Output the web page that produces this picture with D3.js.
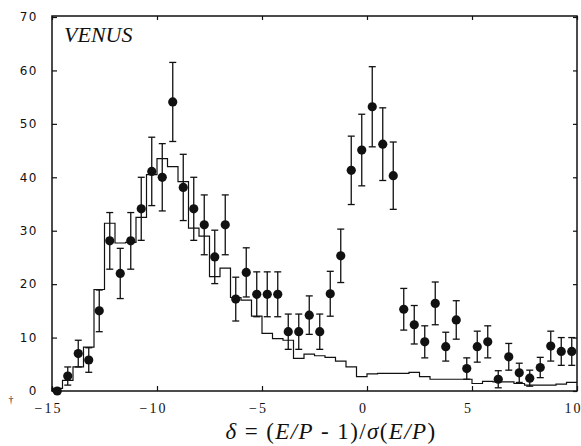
<!DOCTYPE html>
<html>
<head>
  <meta charset="utf-8">
  <script src="https://d3js.org/d3.v7.min.js"></script>
  <style>
    body { margin: 0; background: #fff; }
    .frame { fill: none; stroke: #111; stroke-width: 1.5px; }
    .hist { fill: none; stroke: #111; stroke-width: 1.2px; }
    .err { stroke: #111; stroke-width: 1.3px; }
    .ylab text { font-family: 'DejaVu Sans', sans-serif; font-size: 12px; letter-spacing: 1.5px; fill: #111; }
    .xlab text { font-family: 'Liberation Serif', serif; font-size: 14px; letter-spacing: 2px; fill: #111; }
    .tag { font-family: 'Liberation Serif', serif; font-style: italic; font-size: 22px; fill: #111; }
    .xtitle { font-family: 'Liberation Serif', serif; font-size: 23px; letter-spacing: 1.4px; fill: #111; }
  </style>
</head>
<body>
<div id="chart"></div>
<script>
// bin centres in delta (bins are 0.5 wide)
var delta = [-14.75, -14.25, -13.75, -13.25, -12.75, -12.25, -11.75, -11.25, -10.75, -10.25,
             -9.75, -9.25, -8.75, -8.25, -7.75, -7.25, -6.75, -6.25, -5.75, -5.25,
             -4.75, -4.25, -3.75, -3.25, -2.75, -2.25, -1.75, -1.25, -0.75, -0.25,
             0.25, 0.75, 1.25, 1.75, 2.25, 2.75, 3.25, 3.75, 4.25, 4.75,
             5.25, 5.75, 6.25, 6.75, 7.25, 7.75, 8.25, 8.75, 9.25, 9.75];

// data points (events per bin) and their errors
var counts = [0, 2.8, 7.0, 5.8, 15.0, 28.1, 22.0, 28.1, 34.1, 41.1,
              40.0, 54.1, 38.1, 34.1, 31.1, 25.1, 31.1, 17.2, 22.2, 18.1,
              18.1, 18.1, 11.1, 11.1, 14.2, 11.1, 18.2, 25.3, 41.3, 45.1,
              53.2, 46.2, 40.3, 15.3, 12.4, 9.2, 16.4, 8.3, 13.3, 4.2,
              8.3, 9.2, 2.2, 6.4, 3.4, 2.4, 4.4, 8.4, 7.4, 7.4];
var errors = [0, 1.7, 2.5, 2.3, 3.9, 5.3, 4.7, 5.3, 5.9, 6.4,
              6.3, 7.4, 6.2, 5.9, 5.6, 5.0, 5.6, 4.1, 4.6, 4.2,
              4.2, 4.2, 3.3, 3.3, 3.6, 3.3, 4.2, 5.0, 6.4, 6.7,
              7.5, 6.8, 6.3, 3.9, 3.6, 3.0, 4.0, 2.7, 3.6, 2.0,
              2.9, 3.0, 1.6, 2.5, 1.8, 1.5, 1.9, 2.8, 2.6, 2.6];

// simulation histogram (same bins)
var simulation = [0.5, 2.0, 4.5, 8.2, 19.0, 31.4, 27.7, 27.8, 32.5, 40.5,
                  43.5, 42.0, 39.2, 30.5, 29.0, 21.4, 23.0, 17.5, 17.0, 14.0,
                  10.8, 9.8, 9.5, 6.1, 6.9, 6.6, 6.3, 5.6, 4.5, 2.7,
                  3.2, 3.3, 3.3, 3.3, 3.5, 2.7, 2.2, 2.2, 2.2, 2.2,
                  1.4, 1.8, 1.7, 1.7, 1.4, 1.1, 1.1, 1.1, 1.3, 1.6];

var xTicks = [-15, -10, -5, 0, 5, 10];
var xTickLabels = ["\u221215", "\u221210", "\u22125", "0", "5", "10"];
var yTicks = [0, 10, 20, 30, 40, 50, 60, 70];

var W = 581, H = 446;
var binWidth = 0.5;

var svg = d3.select("#chart").append("svg")
    .attr("width", W)
    .attr("height", H);

svg.append("rect").attr("width", W).attr("height", H).attr("fill", "#fff");

var x = d3.scaleLinear().domain([-15, 10]).range([52, 577]);
var y = d3.scaleLinear().domain([0, 70]).range([391, 17]);

// frame
svg.append("rect")
    .attr("class", "frame")
    .attr("x", x(-15))
    .attr("y", 16)
    .attr("width", x(10) - x(-15))
    .attr("height", y(0) - 16);

// axes (ticks pointing inward)
svg.append("g")
    .attr("class", "ylab")
    .attr("transform", "translate(" + x(-15) + ",0)")
    .call(d3.axisLeft(y).tickValues(yTicks).tickSize(-5).tickPadding(14).tickFormat(d3.format("d")));

svg.append("g")
    .attr("transform", "translate(" + x(10) + ",0)")
    .call(d3.axisRight(y).tickValues(yTicks).tickSize(-4).tickFormat(""));

var xAxis = svg.append("g")
    .attr("class", "xlab")
    .attr("transform", "translate(0," + y(0) + ")")
    .call(d3.axisBottom(x).tickValues(xTicks).tickSize(-5).tickPadding(12)
        .tickFormat(function(d, i) { return xTickLabels[i]; }));
xAxis.selectAll("text").attr("dx", "-4");

svg.append("g")
    .attr("transform", "translate(0,16)")
    .call(d3.axisTop(x).tickValues(xTicks).tickSize(-4).tickFormat(""));

svg.selectAll(".domain").remove();
svg.selectAll(".tick line").attr("stroke", "#111").attr("stroke-width", 1.2);

// simulation histogram as a step line
var steps = [];
simulation.forEach(function(v, i) {
    steps.push([delta[i] - binWidth / 2, v]);
    steps.push([delta[i] + binWidth / 2, v]);
});
steps.unshift([-15, 0]);

svg.append("path")
    .datum(steps)
    .attr("class", "hist")
    .attr("d", d3.line().x(function(d) { return x(d[0]); }).y(function(d) { return y(d[1]); }));

// data points with error bars
var pts = delta.map(function(d, i) { return { d: d, v: counts[i], e: errors[i] }; });

var g = svg.append("g");
var withErr = pts.filter(function(p) { return p.e > 0; });

g.selectAll("line.err")
    .data(withErr)
    .enter().append("line")
    .attr("class", "err")
    .attr("x1", function(p) { return x(p.d); })
    .attr("x2", function(p) { return x(p.d); })
    .attr("y1", function(p) { return y(p.v - p.e); })
    .attr("y2", function(p) { return y(p.v + p.e); });

g.selectAll("line.capTop")
    .data(withErr)
    .enter().append("line")
    .attr("class", "err")
    .attr("x1", function(p) { return x(p.d) - 3.5; })
    .attr("x2", function(p) { return x(p.d) + 3.5; })
    .attr("y1", function(p) { return y(p.v + p.e); })
    .attr("y2", function(p) { return y(p.v + p.e); });

g.selectAll("line.capBot")
    .data(withErr)
    .enter().append("line")
    .attr("class", "err")
    .attr("x1", function(p) { return x(p.d) - 3.5; })
    .attr("x2", function(p) { return x(p.d) + 3.5; })
    .attr("y1", function(p) { return y(p.v - p.e); })
    .attr("y2", function(p) { return y(p.v - p.e); });

g.selectAll("circle")
    .data(pts)
    .enter().append("circle")
    .attr("cx", function(p) { return x(p.d); })
    .attr("cy", function(p) { return y(p.v); })
    .attr("r", 4.6)
    .attr("fill", "#111");

// labels
svg.append("text")
    .attr("class", "tag")
    .attr("x", 64)
    .attr("y", 42)
    .text("VENUS");

var t = svg.append("text")
    .attr("class", "xtitle")
    .attr("x", 331)
    .attr("y", 439)
    .attr("text-anchor", "middle");
t.append("tspan").attr("font-style", "italic").text("\u03b4");
t.append("tspan").text(" = (");
t.append("tspan").attr("font-style", "italic").text("E/P");
t.append("tspan").text(" - 1)/");
t.append("tspan").attr("font-style", "italic").text("\u03c3");
t.append("tspan").text("(");
t.append("tspan").attr("font-style", "italic").text("E/P");
t.append("tspan").text(")");

svg.append("text")
    .attr("x", 11)
    .attr("y", 403)
    .attr("font-family", "'Liberation Serif', serif")
    .attr("font-size", 10)
    .attr("text-anchor", "middle")
    .attr("fill", "#111")
    .text("\u2020");
</script>
</body>
</html>
